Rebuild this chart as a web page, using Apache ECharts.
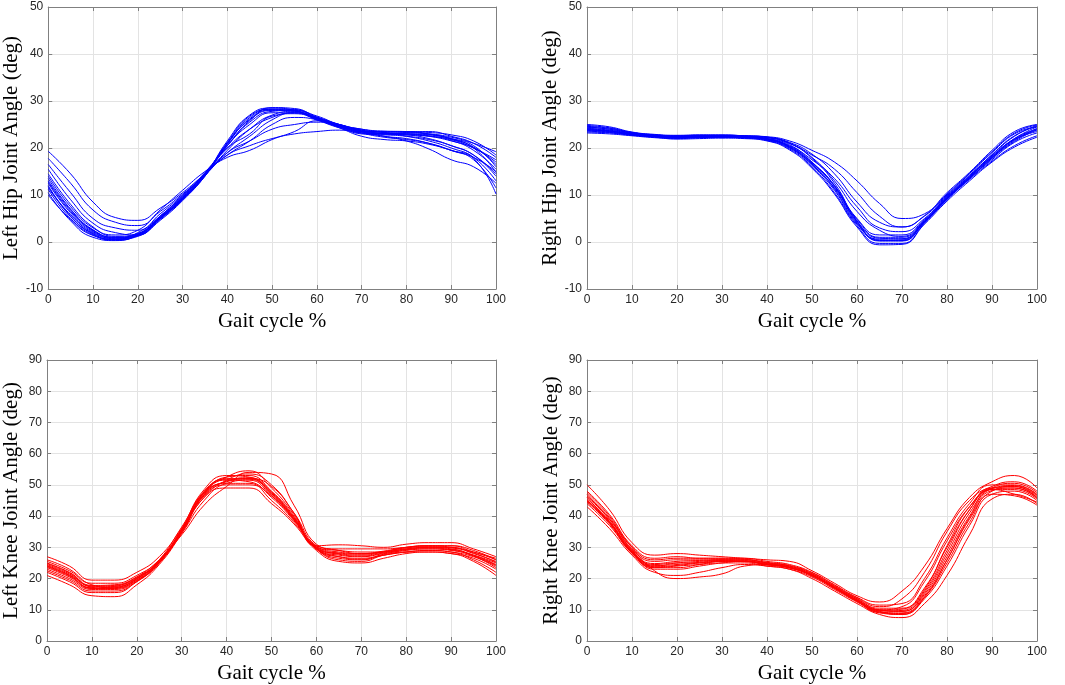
<!DOCTYPE html>
<html>
<head>
<meta charset="utf-8">
<script src="https://cdn.jsdelivr.net/npm/echarts@6/dist/echarts.min.js"></script>
<style>
html,body{margin:0;padding:0;background:#fff;}
#chart{width:1065px;height:685px;}
</style>
</head>
<body>
<div id="chart"></div>
<script>
// Gait cycle sample positions (%)
const gaitPct = [0,5,10,15,20,25,30,35,40,45,50,55,60,65,70,75,80,85,90,95,100];

// Left hip joint angle curves (deg)
const leftHip = [
  [19.3,14.5,8.5,5.2,4.6,7.2,10.5,14.5,18.5,20.5,22,23,23.5,23.8,23.2,22.5,21.5,19.8,17.5,16,12.5],
  [17.8,12.5,6.8,4.2,3.5,6.5,10.2,14.2,19,21.5,24,25,25.5,25,23.5,22.5,22,21,19.5,18,15],
  [16.5,10.5,5,3,2.5,6,10,14.5,20,24,26.5,27.5,26.5,25,23.8,23,22.8,22,20.5,18.5,14],
  [15.5,9,4,2,1.5,5.5,9.8,14.8,20.5,25.5,27.8,28,26.8,25,24,23.3,23,22.5,21.5,20,17],
  [14.5,8,3.2,1.2,1.8,5.2,9.5,14.5,21,26.5,28.3,28.2,26.5,24.8,23.5,23,23,22.8,22,20.5,16],
  [13.5,7,2.6,1,1.5,5,9.2,14.2,21.5,27,28.5,28,26.2,24.5,23,22.8,22.5,21.8,20.5,18.5,14.5],
  [12.5,6.2,2.2,0.7,1.3,4.8,9,14,21,26,28,27.8,26,24.3,23.2,23,23.3,23.5,22.5,21,18],
  [12,5.5,1.8,0.5,1.2,4.6,8.8,14,20.5,25,27.5,27.5,26,24.5,23.5,23.5,23.5,23,22,20.2,16.5],
  [11.2,5,1.5,0.4,1.5,5,9,14.2,19.5,24,27,27.8,26.2,24.8,23.7,23.3,22.5,21.5,20,18,13],
  [10.5,4.5,1,0.3,1.6,5.2,9.3,14.5,19,22.5,26,27.5,26.3,24.7,23.2,22.3,21.8,21,19.5,17.5,11.5],
  [10,4.8,1.4,0.6,2,5.5,9.6,14.5,18.5,21.5,25,26.5,26,24.3,22.5,21.8,21.5,20.8,19.5,17.8,10.2],
  [14,7.5,3,1.5,2.5,6.8,11,15,18,19.5,21.8,23.5,25.8,24.5,23.5,23,22.8,22.5,21.8,20,17.5],
  [12.8,6.5,2.5,1,1.8,5.5,9.8,14.6,20,23,26.8,27.3,26.2,24.7,23.6,23.2,23.2,23,22.3,21,19.2],
  [11.5,5.8,2,0.8,1.4,5,9.2,14.4,20.5,25.8,28.6,28.4,26.6,25,24,23.6,23.5,23.3,22.8,21.5,18.5],
  [13,6.8,2.4,0.9,1.6,5.3,9.4,14.3,21.2,26.8,28.2,27.9,26.4,24.6,23.4,23.1,23,22.6,21.6,19.5,15.5],
  [11.8,5.4,1.7,0.5,1.4,5.1,9.1,14.1,20.8,26.2,28.1,28.1,26.3,24.9,23.8,23.4,23.4,22.9,21.9,20,14.8]
];

// Right hip joint angle curves (deg)
const rightHip = [
  [25,24.5,23.4,22.9,22.7,22.8,22.8,22.6,22.4,21.5,19.5,17,13,8.2,5,6,10.5,14.8,19.5,23.5,25],
  [24.5,24,23.2,22.7,22.5,22.6,22.6,22.5,22.2,21,18.5,15.5,10.5,5.5,3.2,5.5,10,14.5,19,23,24.5],
  [24,23.6,23,22.5,22.3,22.4,22.5,22.4,22,20.5,17.5,13.5,7.5,3,2.2,5,9.8,14.2,18.5,22.5,24.8],
  [23.6,23.3,22.8,22.4,22.2,22.3,22.4,22.3,21.8,20.3,16.8,12,5,1.5,1.5,4.8,9.6,14,18,22,24],
  [23.2,23,22.6,22.2,22,22.2,22.3,22.2,21.7,20,16.3,11,3.8,0.6,0.6,4.5,9.3,13.6,17.5,21.2,23.2],
  [24.8,24.3,23.3,22.8,22.6,22.7,22.7,22.6,22.3,21,17.8,12.5,4.5,0.2,0.2,4.3,9.2,13.5,17.8,21.8,23.8],
  [23.8,23.6,22.9,22.4,22.1,22.2,22.3,22.1,21.6,19.8,16,10.5,3.5,-0.3,-0.3,4,9,13.3,17.2,20.5,22.6],
  [24.2,23.8,23.1,22.6,22.4,22.5,22.5,22.4,22,20.7,17,12,4.2,0.4,0.3,4.2,9.2,13.7,18.2,22,24.5],
  [24.4,24,23.2,22.7,22.5,22.6,22.6,22.5,22.2,21,18,13,6.5,2.5,1.2,4.6,9.5,14,18.6,22.6,24.6],
  [23.4,23.2,22.7,22.3,21.9,22,22.1,22,21.5,19.6,15.7,10.2,3.2,-0.6,-0.5,3.8,8.7,13,17,20.2,22.3],
  [24.6,24.2,23.3,22.8,22.6,22.7,22.7,22.6,22.3,21.2,18.7,14.5,8.5,4.2,3.2,5.6,10.2,14.6,19.2,23.2,24.9],
  [23.9,23.5,22.9,22.5,22.3,22.4,22.4,22.3,21.9,20.2,16.5,11.5,4.8,1,1,4.4,9.4,13.8,18.3,21.8,23.5],
  [24.1,23.7,23,22.6,22.3,22.5,22.5,22.3,21.9,20.4,16.9,11.8,4.4,0.8,0.7,4.4,9.3,13.8,18,21.6,24.2],
  [23.7,23.4,22.8,22.4,22.2,22.3,22.3,22.2,21.8,20.1,16.6,11.3,4,0.3,0.4,4.2,9.1,13.5,17.8,21.4,23.9]
];

// Left knee joint angle curves (deg)
const leftKnee = [
  [27,24,19.5,19.5,22,27,36,46,51.5,53.5,50,41,30.5,30.8,30.5,30,31,31.5,31.5,29.5,27],
  [25.5,22.5,18.5,18.5,21,26,35.5,47,52.5,53,48,40,30,29,28.5,28.5,29.5,30,30,28,25.5],
  [24.5,21.5,17.5,17.5,20,25.5,35,47.5,52,52,47,39,29.5,27.5,27,28,29,29.5,29,27.5,25],
  [23.5,20.5,16.8,16.8,19.5,25.5,35.5,48,51.5,51,46,38.5,29.5,26.5,26,27.5,28.5,29,28.5,27,24],
  [22.5,19.5,16,16,19,25,35,47,50.5,50.5,45,38,29.5,26,25.5,27.5,28.5,28.5,28,26.5,23],
  [21,18,14.5,14.2,18,24.5,34.5,46,49,49,44,37.5,29,25.5,25,26.5,28,28.5,28,25.5,21],
  [26,23,18,17,19.5,25,36,48.5,53,52.5,47.5,39.5,30,28,27.5,28.5,30,30.5,30.5,28.5,26.5],
  [23,20,16.5,17,20,26,36.5,47.5,51,52,49.5,41,30.5,28.5,28,28.5,29.5,30,29.5,27.5,24.5],
  [24,21,17,17.5,20.5,26,34,43.5,49.5,54,53.5,43.5,31,29,28,28.8,30,30.5,30.5,29,26],
  [22,19,15.5,15.5,19,25,35,46.5,50,50,46.5,39,29.5,27,26.5,27.5,28.5,29,28.5,26,22],
  [25,22,17.8,18,20.5,25.5,35.5,47.5,52.5,54.5,49,40.5,30.5,29.5,29.5,29.5,30,30.5,30,28.5,26],
  [24.2,21.2,17.2,16.5,19.2,25.2,34.5,45,50.5,51.5,46.5,38.8,29.8,27,26.2,27.8,29.2,29.8,29.2,27.2,23.5],
  [23.8,20.8,17,17.2,19.8,25.8,35.8,47.8,51.8,51.8,47.2,39.2,29.8,27.8,27.2,28.2,29.3,29.5,29.3,27.3,24.3],
  [24.8,21.8,17.6,17.8,20.2,25.6,35.2,46.8,51.2,52.3,47.8,39.6,30.2,28.2,27.8,28.6,29.8,30.2,29.8,28.2,25.2]
];

// Right knee joint angle curves (deg)
const rightKnee = [
  [50,42,31.5,27.5,28,27.5,27,26.5,26,25.5,22.5,18.5,14.5,12.5,16,24,36,46,51,53,49],
  [48,40.5,30.5,26.5,27,26.5,26.5,26.5,25.5,24.5,22,18,14,11.5,12,20,33,44,50,50,47],
  [46.5,39.5,29.5,25.5,26,26,26,26,25,24,21.5,17.5,13.5,10.5,10.5,17,30,42,49,49.5,46.5],
  [45.5,38.5,28.5,24.5,25,25,25.5,25.5,24.5,23.5,21,17,13,9.8,9.5,15,27,40,48.5,48.5,45.5],
  [44.5,37.5,28,23.5,24,24.5,25,25,24,23,20.5,16.5,12.5,9,8.5,13.5,24,37,47,48,45],
  [43,36,27.5,22,21,22,23.5,24.5,24,23,20,16,12,8.5,7.5,12,21,34,45.5,47,44],
  [47,39,30,22.5,20,20.5,21.5,24,24.5,23.5,21,17,13,9.5,8.5,14,26,39,48,49.5,46],
  [46,38,29,23,23,24,25,25.5,24.5,23.5,21,17,13,10,11,19,32,43,48.5,47,44.5],
  [45,38,28.5,24,25,25.5,26,26,25,24,21.5,17.5,13.5,10,9.5,15.5,28,41,49,50.5,47.5],
  [44,37,28.2,23.5,23.5,24.5,25.5,25.5,24.5,23.5,21,17,12.8,9.2,8.8,14,25,38,47,46.5,43.5],
  [47.5,40,30,26,26.5,26.5,26.5,26.2,25.2,24.2,21.8,17.8,13.8,11,13.5,22,35,45,49.5,51,48],
  [45,38.2,28.8,24.8,25.5,25.8,26,25.8,24.8,23.8,21.2,17.2,13.2,9.6,9.8,16,29,42,49,49,46],
  [46.2,39,29.2,24.2,24.5,25.2,25.8,25.6,24.6,23.6,21.2,17.2,13.1,9.9,10.2,16.5,30.5,43,48.8,49.8,46.8],
  [44.8,37.8,28.4,23.8,24.2,25,25.6,25.4,24.4,23.4,20.8,16.8,12.7,9.3,9,14.5,26,39.5,48.2,49,45.8]
];

// Axis labels and ranges
const yNames = ['Left Hip Joint Angle (deg)','Right Hip Joint Angle (deg)','Left Knee Joint Angle (deg)','Right Knee Joint Angle (deg)'];
const xName = 'Gait cycle %';
const yRanges = [[-10,50],[-10,50],[0,90],[0,90]];
const panelColors = ['#0000ff','#0000ff','#ff0000','#ff0000'];
const panelData = [leftHip, rightHip, leftKnee, rightKnee];

const gridPos = [
  {left:46, top:7, width:450, height:282},
  {left:587, top:7, width:450, height:282},
  {left:46, top:360, width:450, height:282},
  {left:587, top:360, width:450, height:282}
];

const axisCol = '#808080';
const tickFont = {color:'#262626', fontSize:12, fontFamily:'Liberation Sans, Arial, sans-serif'};
const nameFont = {color:'#000', fontSize:21, fontFamily:'Liberation Serif, Times New Roman, serif'};

const xAxes = [], yAxes = [], series = [];
gridPos.forEach((g, i) => {
  xAxes.push({
    type:'value', gridIndex:i, min:0, max:100, interval:10, position:'bottom',
    name: xName, nameLocation:'middle', nameGap:22, nameTextStyle:nameFont,
    axisLine:{show:true, onZero:false, lineStyle:{color:axisCol, width:1}},
    axisTick:{show:true, inside:true, length:4, lineStyle:{color:axisCol}},
    axisLabel:Object.assign({margin:5}, tickFont),
    splitLine:{show:true, lineStyle:{color:'#e3e3e3', width:1}}
  });
  xAxes.push({
    type:'value', gridIndex:i, min:0, max:100, interval:10, position:'top',
    axisLine:{show:true, onZero:false, lineStyle:{color:axisCol, width:1}},
    axisTick:{show:true, inside:true, length:4, lineStyle:{color:axisCol}},
    axisLabel:{show:false}, splitLine:{show:false}
  });
  yAxes.push({
    type:'value', gridIndex:i, min:yRanges[i][0], max:yRanges[i][1], interval:10, position:'left',
    name: yNames[i], nameLocation:'middle', nameGap:25, nameRotate:90, nameTextStyle:nameFont,
    axisLine:{show:true, onZero:false, lineStyle:{color:axisCol, width:1}},
    axisTick:{show:true, inside:true, length:4, lineStyle:{color:axisCol}},
    axisLabel:Object.assign({margin:5}, tickFont),
    splitLine:{show:true, lineStyle:{color:'#e3e3e3', width:1}}
  });
  yAxes.push({
    type:'value', gridIndex:i, min:yRanges[i][0], max:yRanges[i][1], interval:10, position:'right',
    axisLine:{show:true, onZero:false, lineStyle:{color:axisCol, width:1}},
    axisTick:{show:true, inside:true, length:4, lineStyle:{color:axisCol}},
    axisLabel:{show:false}, splitLine:{show:false}
  });
  panelData[i].forEach(curve => {
    series.push({
      type:'line', xAxisIndex:2*i, yAxisIndex:2*i,
      data: curve.map((v, k) => [gaitPct[k], v]),
      showSymbol:false, smooth:0.5,
      lineStyle:{color:panelColors[i], width:1},
      silent:true
    });
  });
});

const chart = echarts.init(document.getElementById('chart'), null, {renderer:'canvas'});
chart.setOption({
  animation:false,
  backgroundColor:'#ffffff',
  grid: gridPos.map(g => Object.assign({containLabel:false}, g)),
  xAxis: xAxes,
  yAxis: yAxes,
  series: series
});
</script>
</body>
</html>
